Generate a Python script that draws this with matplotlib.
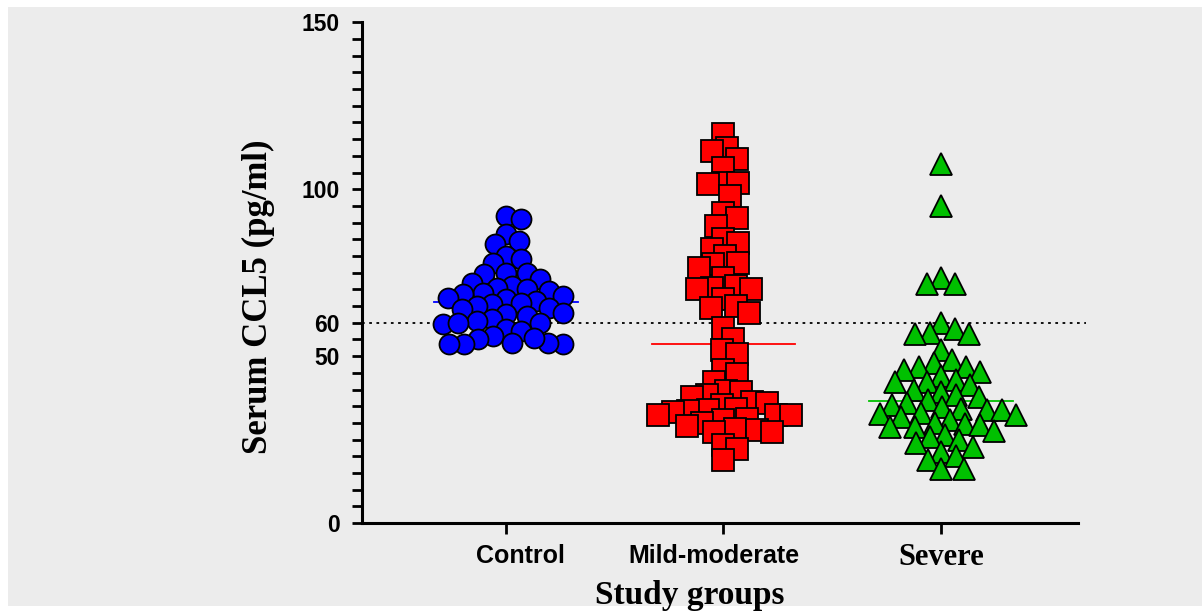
import numpy as np
import matplotlib
matplotlib.use('Agg')
import matplotlib.pyplot as plt
from matplotlib.patches import Rectangle
from matplotlib.ticker import MultipleLocator

# serum CCL5 (pg/ml)
groups = ['Control', 'Mild-moderate', 'Severe']
control = [92, 91, 86.5, 84.5, 83.5, 80, 79, 78, 75, 75, 74.5, 73, 72, 71, 70.5,
           70, 69.5, 69, 68.5, 68, 67.5, 67, 66.5, 66, 65.5, 65, 64.5, 64, 63, 62.5,
           62, 61, 60.5, 60, 59.5, 59.8, 58, 57.5, 56, 55, 54, 53.5, 53.5, 53.5, 53.8,
           55.5]
mild = [116.6, 112.4, 111.5, 109.1, 106.4, 101.9, 101.9, 101.6, 98, 92.9, 91.4, 89,
        85, 83.9, 82, 80, 77.8, 77.5, 76.3, 73.3, 70.9, 70.3, 70, 70, 67, 64.9, 64.3,
        62.8, 58.3, 55, 52, 50.8, 46, 44.8, 42.4, 39.7, 39.4, 38.5, 37.9, 36.4, 36,
        35.5, 34.3, 34, 33.7, 33.4, 32.5, 32.5, 32.5, 31.3, 31, 30, 29, 28.3, 28,
        27.4, 27.4, 23.4, 22.2, 18.9]
severe = [107.6, 95, 73.3, 71.5, 71.5, 59.8, 58, 56.8, 56.5, 56.5, 52, 49, 48, 46.9,
          46.9, 46, 45.4, 44, 43, 42.4, 42.4, 41.5, 40, 39.4, 38.5, 37.9, 37, 36,
          35.5, 34.9, 34.3, 34, 34, 33, 32.8, 32.5, 31.9, 31, 30, 29.8, 29.5, 28.9,
          28.9, 27.5, 26.5, 25.8, 24.9, 24, 22.8, 21.3, 20, 19, 16.2, 16.2]
cutoff = 60

fig = plt.figure(figsize=(12.02, 6.14), dpi=100, facecolor='white')
fig.patches.append(Rectangle((0.0067, 0.013), 1, 0.9756, transform=fig.transFigure,
                             facecolor='#ececec', edgecolor='none', zorder=-10))
ax = fig.add_axes([0.3012, 0.148, 0.5956, 0.8157])
ax.set_facecolor('none')
ax.set_xlim(0.338, 3.63)
ax.set_ylim(0, 150)


def swarm(vals, center, dmin):
    # simple beeswarm in pixel space, overlap allowed up to dmin
    p0 = ax.transData.transform((0, 0))
    p1 = ax.transData.transform((1, 1))
    sx, sy = p1[0] - p0[0], p1[1] - p0[1]
    vals = np.asarray(vals, float)
    xs = np.zeros(len(vals))
    placed = []
    offs = [0]
    for k in range(1, 200):
        offs += [k, -k]
    for i in np.argsort(-vals):
        y = vals[i] * sy
        for o in offs:
            if all((o - a) ** 2 + (y - b) ** 2 >= dmin ** 2 for a, b in placed):
                break
        placed.append((o, y))
        xs[i] = center + o / sx
    return xs


styles = [('o', '#0000ff', 14.4, 14.5), ('s', '#ff0000', 15.8, 14.5),
          ('^', '#00c000', 16.5, 14.8)]
for k, (vals, (mk, col, ms, dmin)) in enumerate(zip([control, mild, severe], styles)):
    pos = k + 1
    xs = swarm(vals, pos, dmin)
    ax.plot(xs, vals, linestyle='none', marker=mk, markersize=ms, markerfacecolor=col,
            markeredgecolor='black', markeredgewidth=1.3, zorder=3)
    med = np.median(vals)
    ax.plot([pos - 0.33, pos + 0.33], [med, med], color=col, lw=1.3, zorder=2)

ax.plot([0.338, 3.665], [cutoff, cutoff], color='black', ls=(0, (1.5, 2.5)), lw=1.3,
        zorder=1, clip_on=False)

for s in ['top', 'right']:
    ax.spines[s].set_visible(False)
for s in ['left', 'bottom']:
    ax.spines[s].set_linewidth(2.2)

ax.set_yticks([0, 50, 60, 100, 150])
ax.yaxis.set_minor_locator(MultipleLocator(5))
ax.tick_params(axis='y', which='both', length=7, width=2, pad=9)
ax.set_yticklabels(['0', '50', '60', '100', '150'], fontfamily='Liberation Sans',
                   fontweight='bold', fontsize=16.5)
ax.set_xticks([1, 2, 3])
ax.set_xticklabels([])
ax.tick_params(axis='x', length=8, width=2)

# category labels (the last one is set in a serif face in the original)
ax.text(1.065, -6.3, groups[0], ha='center', va='top', fontfamily='Liberation Sans',
        fontweight='bold', fontsize=18)
ax.text(1.955, -6.3, groups[1], ha='center', va='top', fontfamily='Liberation Sans',
        fontweight='bold', fontsize=18)
ax.text(3.0, -6.0, groups[2], ha='center', va='top', fontfamily='Liberation Serif',
        fontweight='bold', fontsize=22)

fig.text(0.574, 0.005, 'Study groups', ha='center', va='bottom',
         fontfamily='Liberation Serif', fontweight='bold', fontsize=24)
fig.text(0.215, 0.516, 'Serum CCL5 (pg/ml)', ha='center', va='center', rotation=90,
         fontfamily='Liberation Serif', fontweight='bold', fontsize=25)

fig.savefig('out.png', dpi=100, facecolor='white')
